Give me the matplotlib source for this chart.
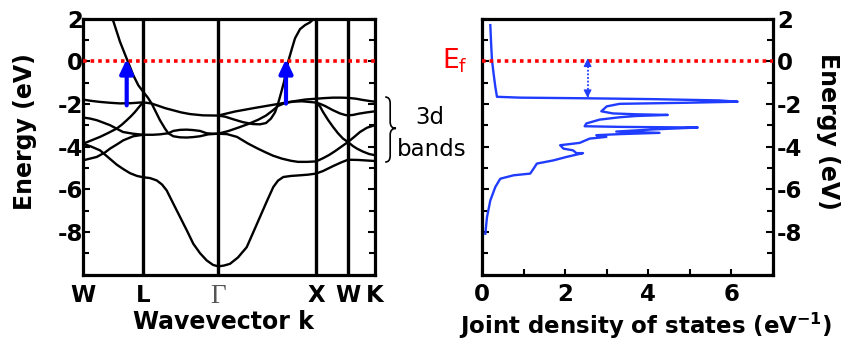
import matplotlib
matplotlib.use("Agg")
import matplotlib.pyplot as plt
from matplotlib.path import Path
from matplotlib.patches import PathPatch
from matplotlib.ticker import MultipleLocator, FixedLocator
import matplotlib.transforms as mtransforms

plt.rcParams['font.family'] = ['DejaVu Sans']
plt.rcParams['axes.unicode_minus'] = False
plt.rcParams['mathtext.fontset'] = 'custom'
plt.rcParams['mathtext.rm'] = 'DejaVu Sans'
plt.rcParams['mathtext.bf'] = 'DejaVu Sans:bold'

# ---------------- data ----------------
sym_k = [0.0, 0.60, 1.35, 2.33, 2.65, 2.92]
sym_labels = ['W', 'L', 'Γ', 'X', 'W', 'K']

# band pieces (k along path, energy in eV)
s1_k = [0.285, 0.303, 0.37, 0.447, 0.503, 0.553, 0.603, 0.65, 0.687, 0.72, 0.77, 0.82, 0.853,
        0.903, 0.97, 1.037, 1.10, 1.17, 1.253, 1.35]
s1_e = [2.0, 1.88, 0.91, 0.0, -0.66, -1.13, -1.44, -1.72, -1.99, -2.30, -2.77, -3.16, -3.38,
        -3.52, -3.57, -3.58, -3.56, -3.52, -3.43, -3.40]

lens_k = [0.60, 0.70, 0.77, 0.853, 0.903, 0.97, 1.037, 1.10, 1.17, 1.237, 1.30, 1.35]
lens_e = [-3.45, -3.45, -3.43, -3.38, -3.27, -3.22, -3.21, -3.23, -3.27, -3.38, -3.40, -3.40]

a_k = [0.0, 0.08, 0.17, 0.27, 0.37, 0.48, 0.60, 0.68, 0.74, 0.82, 0.90, 0.98, 1.07, 1.2, 1.35]
a_e = [-1.80, -1.86, -1.91, -1.95, -1.98, -1.97, -1.93, -1.98, -2.07, -2.20, -2.30, -2.40,
       -2.48, -2.54, -2.55]

b_k = [0.0, 0.07, 0.14, 0.27, 0.40, 0.50, 0.60]
b_e = [-2.64, -2.69, -2.77, -3.00, -3.32, -3.40, -3.45]

c_k = [0.0, 0.08, 0.17, 0.25, 0.337, 0.39, 0.437, 0.48, 0.52, 0.56, 0.60]
c_e = [-3.87, -3.72, -3.55, -3.37, -3.16, -2.97, -2.77, -2.58, -2.38, -2.15, -1.93]

d_k = [0.0, 0.08, 0.17, 0.25, 0.337, 0.40, 0.47, 0.54, 0.60, 0.67, 0.737, 0.79, 0.837, 0.90,
       0.97, 1.04, 1.103, 1.17, 1.237, 1.30, 1.353, 1.41, 1.47, 1.55, 1.637, 1.70, 1.77, 1.84,
       1.903, 1.95, 2.003, 2.08, 2.17, 2.25, 2.33, 2.40, 2.50, 2.58, 2.65, 2.75, 2.85, 2.92]
d_e = [-3.87, -4.00, -4.18, -4.50, -4.85, -5.05, -5.25, -5.38, -5.44, -5.48, -5.59, -5.78,
       -6.06, -6.65, -7.30, -7.95, -8.56, -9.00, -9.34, -9.55, -9.62, -9.58, -9.50, -9.20,
       -8.72, -8.05, -7.30, -6.55, -5.90, -5.60, -5.43, -5.38, -5.35, -5.32, -5.27, -5.15,
       -4.92, -4.75, -4.62, -4.63, -4.66, -4.68]

e_k = [0.0, 0.137, 0.22, 0.27, 0.34, 0.403, 0.503, 0.60]
e_e = [-4.65, -4.49, -4.28, -4.10, -3.90, -3.71, -3.52, -3.45]

gx2_k = [1.35, 1.52, 1.72, 1.92, 2.08, 2.22, 2.33]
gx2_e = [-2.55, -2.36, -2.19, -2.03, -1.90, -1.80, -1.76]

gx5_k = [1.35, 1.45, 1.55, 1.65, 1.75, 1.83, 1.90, 1.95, 2.02, 2.10, 2.19, 2.33]
gx5_e = [-3.40, -3.28, -3.12, -2.95, -2.75, -2.55, -2.30, -2.10, -1.96, -1.90, -1.88, -1.94]

s2_k = [1.35, 1.42, 1.50, 1.60, 1.70, 1.77, 1.83, 1.88, 1.92, 1.95, 1.98, 2.01, 2.03, 2.053,
        2.09, 2.12, 2.17, 2.22, 2.27, 2.30]
s2_e = [-2.55, -2.60, -2.72, -2.86, -2.95, -2.96, -2.90, -2.69, -2.40, -2.00, -1.50, -0.97,
        -0.50, 0.0, 0.60, 1.07, 1.50, 1.69, 1.82, 1.95]

gx2p_k = [1.35, 1.44, 1.54, 1.65, 1.74, 1.82, 1.90, 1.99, 2.08, 2.15, 2.24, 2.33]
gx2p_e = [-3.40, -3.42, -3.55, -3.86, -4.08, -4.26, -4.43, -4.57, -4.67, -4.72, -4.72, -4.70]

t1_k = [2.33, 2.42, 2.50, 2.58, 2.65, 2.73, 2.80, 2.87, 2.92]
t1_e = [-1.76, -1.73, -1.71, -1.71, -1.72, -1.76, -1.82, -1.87, -1.90]

t2_k = [2.33, 2.37, 2.42, 2.50, 2.57, 2.62, 2.65, 2.70, 2.76, 2.84, 2.92]
t2_e = [-1.94, -2.00, -2.10, -2.30, -2.45, -2.52, -2.54, -2.52, -2.46, -2.40, -2.35]

t3_k = [2.33, 2.37, 2.40, 2.45, 2.50, 2.55, 2.60, 2.65, 2.70, 2.74, 2.80, 2.86, 2.92]
t3_e = [-1.94, -2.12, -2.38, -2.75, -3.08, -3.38, -3.63, -3.79, -3.98, -4.10, -4.24, -4.35, -4.41]

t4_k = [2.33, 2.40, 2.46, 2.52, 2.58, 2.65, 2.72, 2.77, 2.84, 2.92]
t4_e = [-4.70, -4.55, -4.40, -4.22, -4.02, -3.79, -3.52, -3.32, -3.12, -3.00]

bands = [(s1_k, s1_e), (lens_k, lens_e), (a_k, a_e), (b_k, b_e), (c_k, c_e), (d_k, d_e),
         (e_k, e_e), (gx2_k, gx2_e), (gx5_k, gx5_e), (s2_k, s2_e), (gx2p_k, gx2p_e),
         (t1_k, t1_e), (t2_k, t2_e), (t3_k, t3_e), (t4_k, t4_e)]

# transition arrows
arrow_k = [0.437, 2.03]
arrow_e_from = [-2.07, -1.99]
arrow_e_to = [0.10, 0.10]

# joint density of states
jdos = [0.20, 0.22, 0.24, 0.28, 0.32, 0.36, 0.92, 2.51, 4.11, 5.71, 6.15, 4.91, 3.31, 3.00,
        2.87, 3.15, 3.71, 4.47, 3.71, 3.31, 2.83, 2.51, 2.47, 3.31, 5.19, 4.11, 3.23, 4.27,
        3.31, 2.75, 2.99, 2.59, 2.35, 1.88, 1.96, 2.19, 2.27, 2.43, 2.03, 1.72, 1.32, 1.24,
        1.16, 0.76, 0.44, 0.32, 0.20, 0.12, 0.08]
jdos_e = [1.69, 0.80, 0.05, -0.60, -1.20, -1.67, -1.71, -1.74, -1.78, -1.84, -1.90, -1.95,
          -2.00, -2.12, -2.35, -2.45, -2.49, -2.52, -2.57, -2.63, -2.74, -2.92, -3.05, -3.08,
          -3.11, -3.20, -3.30, -3.36, -3.42, -3.47, -3.55, -3.63, -3.83, -3.94, -4.10, -4.18,
          -4.31, -4.31, -4.49, -4.65, -4.80, -5.04, -5.27, -5.35, -5.51, -5.90, -6.53, -7.31,
          -8.09]
gap_x = 2.54
gap_e = [0.12, -1.72]

e_ticks = [2, 0, -2, -4, -6, -8]
jdos_ticks = [0, 2, 4, 6]

# ---------------- figure ----------------
W, H = 844, 343
fig = plt.figure(figsize=(W / 100, H / 100), dpi=100)

def px_axes(x0, x1, ytop, ybot):
    return [x0 / W, 1 - ybot / H, (x1 - x0) / W, (ybot - ytop) / H]

ax1 = fig.add_axes(px_axes(83, 375, 18.5, 274.5))
ax2 = fig.add_axes(px_axes(482, 773, 18.5, 274.5))

spine_lw = 2.3
for ax in (ax1, ax2):
    for s in ax.spines.values():
        s.set_linewidth(spine_lw)
    ax.set_ylim(-10, 2)
    ax.yaxis.set_major_locator(FixedLocator(e_ticks))
    ax.yaxis.set_minor_locator(MultipleLocator(1))

tick_fs = 16.5
lab_fs = 17

# left: band structure
for kk, ee in bands:
    ax1.plot(kk, ee, color='black', lw=1.7, solid_joinstyle='round', solid_capstyle='round')
for k in sym_k[1:-1]:
    ax1.axvline(k, color='black', lw=2.4)
ax1.set_xlim(sym_k[0], sym_k[-1])
ax1.axhline(0, color='red', lw=2.6, ls=(0, (1, 1.1)), zorder=3)
for k, e0, e1 in zip(arrow_k, arrow_e_from, arrow_e_to):
    ax1.annotate('', xy=(k, e1), xytext=(k, e0),
                 arrowprops=dict(arrowstyle='-|>,head_length=0.42,head_width=0.2',
                                 color='#0000ff', lw=3.0, mutation_scale=20,
                                 shrinkA=0, shrinkB=0), zorder=4)
ax1.set_xticks(sym_k)
ax1.set_xticklabels(sym_labels)
for lbl, txt in zip(ax1.get_xticklabels(), sym_labels):
    if txt == 'Γ':
        lbl.set_fontfamily(['Liberation Serif', 'DejaVu Serif'])
        lbl.set_fontweight('normal')
        lbl.set_color('#555555')
        lbl.set_fontsize(tick_fs + 3)
    else:
        lbl.set_fontweight('bold')
        lbl.set_fontsize(tick_fs)
ax1.tick_params(axis='x', length=0, pad=7)
ax1.tick_params(axis='y', which='both', direction='in', left=True, right=True,
                labelsize=tick_fs, pad=0)
ax1.tick_params(axis='y', which='major', length=5, width=1.5)
ax1.tick_params(axis='y', which='minor', length=4, width=1.5)
for lbl in ax1.get_yticklabels():
    lbl.set_fontweight('bold')
ax1.set_ylabel('Energy (eV)', fontsize=lab_fs, fontweight='bold')
ax1.yaxis.set_label_coords(-(83 - 37) / 292, 0.56)
ax1.set_xlabel('Wavevector k', fontsize=lab_fs, fontweight='bold')
ax1.xaxis.set_label_coords((223 - 83) / 292, -0.14)

# brace + "3d bands"
tr = mtransforms.blended_transform_factory(ax1.transAxes, ax1.transData)
x0, xm, x1 = 1.035, 1.052, 1.072
ytop, ymid, ybot, r = -1.68, -3.15, -4.73, 0.3
verts = [(x0, ytop), (xm, ytop), (xm, ytop - r), (xm, ymid + r), (xm, ymid), (x1, ymid),
         (xm, ymid), (xm, ymid - r), (xm, ybot + r), (xm, ybot), (x0, ybot)]
codes = [Path.MOVETO, Path.CURVE3, Path.CURVE3, Path.LINETO, Path.CURVE3, Path.CURVE3,
         Path.CURVE3, Path.CURVE3, Path.LINETO, Path.CURVE3, Path.CURVE3]
brace = PathPatch(Path(verts, codes), transform=tr, fill=False, lw=1.2, color='black',
                  clip_on=False)
ax1.add_patch(brace)
fig.text(430 / W, 1 - 117 / H, '3d', fontsize=16.5, ha='center', va='center')
fig.text(432 / W, 1 - 149 / H, 'bands', fontsize=16.5, ha='center', va='center')

# right: joint density of states
ax2.plot(jdos, jdos_e, color='#1f3cff', lw=1.7, solid_joinstyle='round')
ax2.set_xlim(0, 7)
ax2.axhline(0, color='red', lw=2.6, ls=(0, (1, 1.1)), zorder=3)
ax2.plot([gap_x, gap_x], gap_e, color='#1f3cff', lw=1.3, ls=(0, (1, 1)))
for yt, yf in ((gap_e[0], gap_e[0] - 0.35), (gap_e[1], gap_e[1] + 0.35)):
    ax2.annotate('', xy=(gap_x, yt), xytext=(gap_x, yf),
                 arrowprops=dict(arrowstyle='-|>,head_length=0.4,head_width=0.2',
                                 color='#1f3cff', lw=0.8, mutation_scale=12,
                                 shrinkA=0, shrinkB=0))
ax2.xaxis.set_major_locator(FixedLocator(jdos_ticks))
ax2.xaxis.set_minor_locator(MultipleLocator(1))
ax2.tick_params(axis='x', which='both', direction='in', top=False, bottom=True,
                labelsize=tick_fs, pad=6)
ax2.tick_params(axis='x', which='both', length=4, width=1.5)
ax2.yaxis.set_label_position('right')
ax2.tick_params(axis='y', which='both', direction='in', left=True, right=True,
                labelleft=False, labelright=True, labelsize=tick_fs, pad=3)
ax2.tick_params(axis='y', which='major', length=5, width=1.5)
ax2.tick_params(axis='y', which='minor', length=4, width=1.5)
for lbl in ax2.get_yticklabels() + ax2.get_xticklabels():
    lbl.set_fontweight('bold')
ax2.set_ylabel('Energy (eV)', fontsize=lab_fs, fontweight='bold', rotation=270)
ax2.yaxis.set_label_coords((840 - 482) / 291, 0.56)
ax2.set_xlabel('Joint density of states (eV$^{\\mathbf{-1}}$)', fontsize=16.5,
               fontweight='bold')
ax2.xaxis.set_label_coords((646 - 482) / 291, -0.14)
ax2.text(-0.65, 0.0, 'E$_{\\mathrm{f}}$', color='red', fontsize=19, ha='center',
         va='center', transform=ax2.transData, clip_on=False)

fig.savefig('out.png', dpi=100)
